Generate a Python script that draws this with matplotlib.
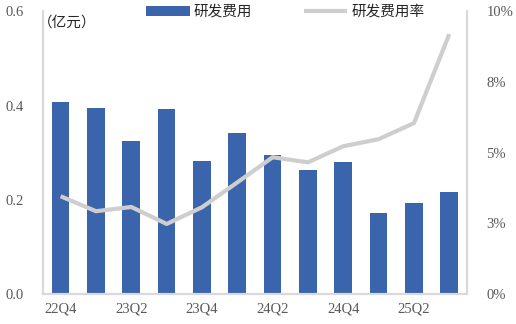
import matplotlib.pyplot as plt
import numpy as np

quarters = ["22Q4", "23Q1", "23Q2", "23Q3", "23Q4", "24Q1",
            "24Q2", "24Q3", "24Q4", "25Q1", "25Q2", "25Q3"]
rd_expense = [0.407, 0.395, 0.324, 0.393, 0.282, 0.341,
              0.295, 0.263, 0.280, 0.171, 0.193, 0.216]
rd_ratio = [3.46, 2.93, 3.08, 2.48, 3.07, 3.95,
            4.84, 4.66, 5.23, 5.48, 6.05, 9.20]
left_ticks = [0.0, 0.2, 0.4, 0.6]
right_ticks = [0, 2.5, 5, 7.5, 10]
right_labels = ["0%", "3%", "5%", "8%", "10%"]

plt.rcParams['font.family'] = ['Liberation Serif', 'Noto Sans CJK SC']
grey = "#d9d9d9"
txt = "#595959"

fig = plt.figure(figsize=(5.16, 3.24), dpi=100)
ax = fig.add_axes([0.0833, 0.0926, 0.8217, 0.872])
x = np.arange(len(quarters))

bars = ax.bar(x, rd_expense, width=0.5, color="#3a65ad", label="研发费用", zorder=2)
ax.set_xlim(-0.5, len(quarters) - 0.5)
ax.set_ylim(0, 0.6)
ax.set_yticks(left_ticks)
ax.set_yticklabels([f"{v:.1f}" for v in left_ticks])
ax.set_xticks(x[::2])
ax.set_xticklabels(quarters[::2])

ax2 = ax.twinx()
line, = ax2.plot(x, rd_ratio, color="#cfcdcd", lw=3, label="研发费用率",
                 solid_capstyle="butt", zorder=3)
ax2.set_ylim(0, 10)
ax2.set_yticks(right_ticks)
ax2.set_yticklabels(right_labels)

for a in (ax, ax2):
    a.spines["top"].set_visible(False)
    for s in ("left", "right", "bottom"):
        a.spines[s].set_color(grey)
        a.spines[s].set_linewidth(1.5)
    a.tick_params(length=0, labelsize=10.5, labelcolor=txt)
ax.tick_params(axis="y", pad=14)
ax.tick_params(axis="x", pad=6)
ax2.tick_params(axis="y", pad=14)

# unit label sits just inside the left spine
ax.text(-0.012, 0.962, "（亿元）", transform=ax.transAxes, fontsize=10.5,
        family=['Noto Sans CJK SC'], color="#262626", va="center", ha="left")

fig.legend([bars, line], ["研发费用", "研发费用率"], loc="upper center",
           bbox_to_anchor=(0.553, 1.025), ncol=2, frameon=False,
           prop={'family': 'Noto Sans CJK SC', 'size': 10.5},
           handlelength=3.0, handleheight=0.6, columnspacing=3.5,
           handletextpad=0.3, labelcolor="#262626")

fig.savefig("out.png", dpi=100)
